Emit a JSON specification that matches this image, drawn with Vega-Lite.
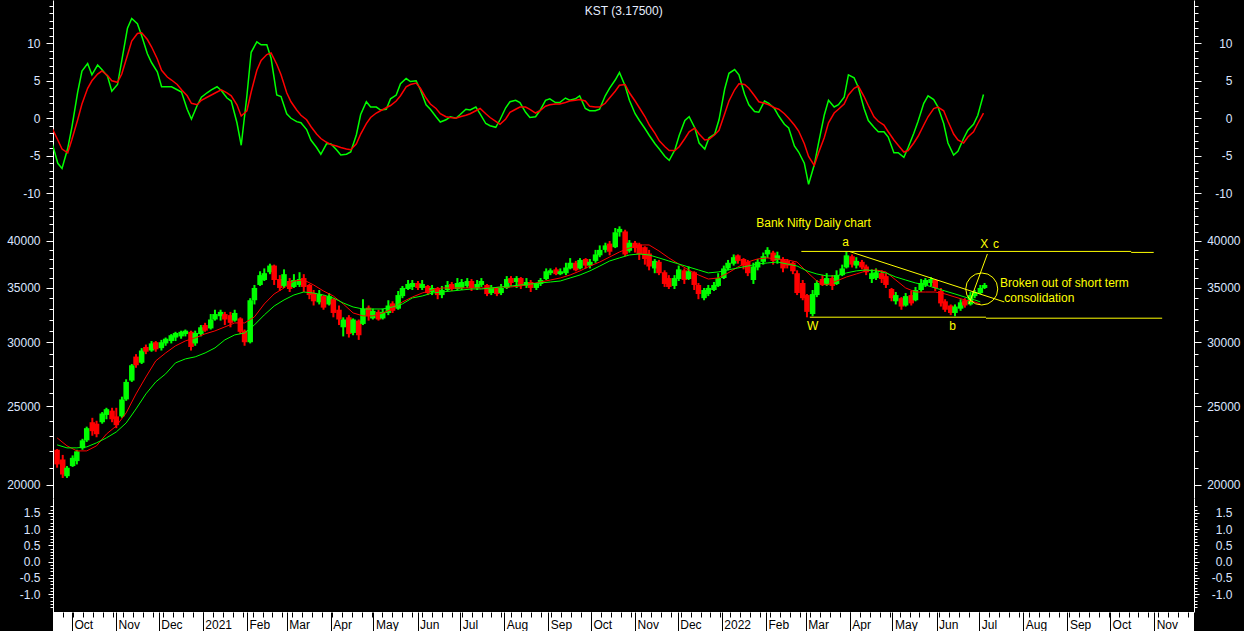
{
"$schema": "https://vega.github.io/schema/vega-lite/v6.json",
"background": "black",
"padding": {"left": 6, "right": 5, "top": 0, "bottom": 0},
"spacing": 0,
"bounds": "flush",
"config": {
  "view": {"stroke": null},
  "font": "Liberation Sans",
  "axis": {"domainColor": "#ffffff", "tickColor": "#ffffff", "labelColor": "#DCE6FF", "labelFont": "Liberation Sans", "labelFontSize": 12, "grid": false, "labelOverlap": false, "labelFlush": false, "domainWidth": 1, "tickWidth": 1}
},
"datasets": {
  "kst": [
{"d":"2020-09-17","k":-3.3,"s":-1.3},{"d":"2020-09-21","k":-6.0,"s":-2.9},{"d":"2020-09-24","k":-6.7,"s":-4.1},{"d":"2020-09-28","k":-4.0,"s":-4.6},
{"d":"2020-10-01","k":-1.1,"s":-2.8},{"d":"2020-10-05","k":3.5,"s":-0.2},{"d":"2020-10-08","k":6.3,"s":1.9},{"d":"2020-10-12","k":7.3,"s":4.0},
{"d":"2020-10-15","k":5.8,"s":5.0},{"d":"2020-10-19","k":7.1,"s":5.9},{"d":"2020-10-22","k":6.5,"s":6.3},{"d":"2020-10-26","k":5.6,"s":5.7},
{"d":"2020-10-29","k":3.6,"s":5.0},{"d":"2020-11-02","k":4.5,"s":4.8},{"d":"2020-11-05","k":7.7,"s":5.9},{"d":"2020-11-09","k":12.0,"s":8.4},
{"d":"2020-11-12","k":13.3,"s":10.3},{"d":"2020-11-16","k":12.6,"s":11.3},{"d":"2020-11-19","k":11.0,"s":11.4},{"d":"2020-11-23","k":8.6,"s":10.5},
{"d":"2020-11-26","k":7.4,"s":9.5},{"d":"2020-11-30","k":6.2,"s":7.9},{"d":"2020-12-03","k":4.2,"s":6.4},{"d":"2020-12-07","k":4.2,"s":5.5},
{"d":"2020-12-10","k":4.2,"s":5.1},{"d":"2020-12-14","k":3.8,"s":4.5},{"d":"2020-12-17","k":3.5,"s":3.8},{"d":"2020-12-21","k":1.2,"s":3.0},
{"d":"2020-12-24","k":-0.1,"s":2.0},{"d":"2020-12-28","k":1.7,"s":1.8},{"d":"2020-12-31","k":2.8,"s":2.4},{"d":"2021-01-04","k":3.4,"s":2.8},
{"d":"2021-01-07","k":3.8,"s":3.1},{"d":"2021-01-11","k":4.2,"s":3.5},{"d":"2021-01-14","k":3.7,"s":3.8},{"d":"2021-01-18","k":2.7,"s":3.4},
{"d":"2021-01-21","k":2.3,"s":3.0},{"d":"2021-01-25","k":-0.6,"s":1.8},{"d":"2021-01-28","k":-3.6,"s":0.3},{"d":"2021-02-01","k":3.0,"s":1.0},
{"d":"2021-02-04","k":8.8,"s":3.5},{"d":"2021-02-08","k":10.2,"s":6.4},{"d":"2021-02-11","k":9.8,"s":7.7},{"d":"2021-02-15","k":9.8,"s":8.5},
{"d":"2021-02-18","k":8.0,"s":8.7},{"d":"2021-02-22","k":3.1,"s":7.2},{"d":"2021-02-25","k":2.9,"s":5.8},{"d":"2021-03-01","k":0.6,"s":3.4},
{"d":"2021-03-04","k":0.0,"s":2.2},{"d":"2021-03-08","k":-0.45,"s":1.1},{"d":"2021-03-11","k":-0.6,"s":0.4},{"d":"2021-03-15","k":-1.5,"s":-0.2},
{"d":"2021-03-18","k":-2.9,"s":-1.1},{"d":"2021-03-22","k":-3.9,"s":-2.1},{"d":"2021-03-25","k":-4.8,"s":-2.7},{"d":"2021-03-29","k":-3.4,"s":-3.2},
{"d":"2021-04-01","k":-3.4,"s":-3.5},{"d":"2021-04-05","k":-4.2,"s":-3.7},{"d":"2021-04-08","k":-4.9,"s":-3.9},{"d":"2021-04-12","k":-4.8,"s":-4.1},
{"d":"2021-04-15","k":-4.5,"s":-4.2},{"d":"2021-04-19","k":-2.2,"s":-3.4},{"d":"2021-04-22","k":0.5,"s":-2.1},{"d":"2021-04-26","k":2.2,"s":-0.7},
{"d":"2021-04-29","k":1.5,"s":0.1},{"d":"2021-05-03","k":1.5,"s":0.7},{"d":"2021-05-06","k":1.1,"s":1.0},{"d":"2021-05-10","k":1.2,"s":1.4},
{"d":"2021-05-13","k":2.6,"s":1.7},{"d":"2021-05-17","k":3.1,"s":2.3},{"d":"2021-05-20","k":4.6,"s":3.0},{"d":"2021-05-24","k":5.3,"s":4.2},
{"d":"2021-05-27","k":4.9,"s":4.5},{"d":"2021-05-31","k":5.0,"s":4.7},{"d":"2021-06-03","k":3.8,"s":4.0},{"d":"2021-06-07","k":1.8,"s":2.7},
{"d":"2021-06-10","k":1.2,"s":1.9},{"d":"2021-06-14","k":0.2,"s":1.3},{"d":"2021-06-17","k":-0.5,"s":0.6},{"d":"2021-06-21","k":-0.2,"s":0.2},
{"d":"2021-06-24","k":0.2,"s":0.1},{"d":"2021-06-28","k":0.0,"s":0.0},{"d":"2021-07-01","k":0.5,"s":0.2},{"d":"2021-07-05","k":1.2,"s":0.4},
{"d":"2021-07-08","k":1.1,"s":0.6},{"d":"2021-07-12","k":1.5,"s":1.0},{"d":"2021-07-15","k":0.6,"s":1.3},{"d":"2021-07-19","k":-0.7,"s":0.6},
{"d":"2021-07-22","k":-1.0,"s":0.1},{"d":"2021-07-26","k":-1.2,"s":-0.4},{"d":"2021-07-29","k":-0.2,"s":-0.8},{"d":"2021-08-02","k":1.4,"s":-0.1},
{"d":"2021-08-05","k":2.2,"s":0.8},{"d":"2021-08-09","k":2.4,"s":1.2},{"d":"2021-08-12","k":2.1,"s":1.5},{"d":"2021-08-16","k":0.8,"s":1.5},
{"d":"2021-08-19","k":0.1,"s":1.2},{"d":"2021-08-23","k":0.2,"s":0.7},{"d":"2021-08-26","k":1.0,"s":1.0},{"d":"2021-08-30","k":2.4,"s":1.6},
{"d":"2021-09-02","k":2.6,"s":1.8},{"d":"2021-09-06","k":2.1,"s":1.9},{"d":"2021-09-09","k":2.1,"s":1.9},{"d":"2021-09-13","k":2.7,"s":2.1},
{"d":"2021-09-16","k":2.4,"s":2.3},{"d":"2021-09-20","k":2.6,"s":2.4},{"d":"2021-09-23","k":3.0,"s":2.5},{"d":"2021-09-27","k":1.3,"s":2.3},
{"d":"2021-09-30","k":1.0,"s":1.6},{"d":"2021-10-04","k":1.0,"s":1.5},{"d":"2021-10-07","k":1.2,"s":1.5},{"d":"2021-10-11","k":3.0,"s":2.0},
{"d":"2021-10-14","k":4.0,"s":2.7},{"d":"2021-10-18","k":5.1,"s":3.6},{"d":"2021-10-21","k":6.1,"s":4.4},{"d":"2021-10-25","k":4.3,"s":4.5},
{"d":"2021-10-28","k":2.4,"s":3.4},{"d":"2021-11-01","k":0.6,"s":2.3},{"d":"2021-11-04","k":-0.3,"s":1.4},{"d":"2021-11-08","k":-1.4,"s":0.2},
{"d":"2021-11-11","k":-2.3,"s":-0.9},{"d":"2021-11-15","k":-3.4,"s":-2.0},{"d":"2021-11-18","k":-4.1,"s":-3.0},{"d":"2021-11-22","k":-5.1,"s":-3.8},
{"d":"2021-11-25","k":-5.6,"s":-4.3},{"d":"2021-11-29","k":-4.2,"s":-4.3},{"d":"2021-12-02","k":-2.3,"s":-3.8},{"d":"2021-12-06","k":-0.3,"s":-2.7},
{"d":"2021-12-09","k":0.2,"s":-1.8},{"d":"2021-12-13","k":-1.3,"s":-1.3},{"d":"2021-12-16","k":-3.3,"s":-2.1},{"d":"2021-12-20","k":-4.1,"s":-2.9},
{"d":"2021-12-23","k":-2.6,"s":-2.8},{"d":"2021-12-27","k":-2.1,"s":-2.2},{"d":"2021-12-30","k":-0.2,"s":-1.6},{"d":"2022-01-03","k":3.9,"s":0.6},
{"d":"2022-01-06","k":6.0,"s":2.3},{"d":"2022-01-10","k":6.5,"s":3.8},{"d":"2022-01-13","k":5.8,"s":4.6},{"d":"2022-01-17","k":3.2,"s":4.5},
{"d":"2022-01-20","k":1.8,"s":4.0},{"d":"2022-01-24","k":0.9,"s":3.0},{"d":"2022-01-27","k":0.8,"s":2.2},{"d":"2022-01-31","k":2.3,"s":2.0},
{"d":"2022-02-03","k":2.0,"s":1.8},{"d":"2022-02-07","k":1.3,"s":1.4},{"d":"2022-02-10","k":0.3,"s":1.2},{"d":"2022-02-14","k":-0.8,"s":0.6},
{"d":"2022-02-17","k":-1.3,"s":0.0},{"d":"2022-02-21","k":-3.7,"s":-0.9},{"d":"2022-02-24","k":-4.5,"s":-1.7},{"d":"2022-02-28","k":-6.0,"s":-3.4},
{"d":"2022-03-03","k":-8.8,"s":-5.1},{"d":"2022-03-07","k":-6.2,"s":-6.3},{"d":"2022-03-10","k":-3.3,"s":-4.6},{"d":"2022-03-14","k":0.4,"s":-2.6},
{"d":"2022-03-17","k":2.4,"s":-0.6},{"d":"2022-03-21","k":1.5,"s":0.7},{"d":"2022-03-24","k":1.8,"s":1.2},{"d":"2022-03-28","k":2.8,"s":1.9},
{"d":"2022-03-31","k":5.8,"s":3.1},{"d":"2022-04-04","k":5.4,"s":4.0},{"d":"2022-04-07","k":4.1,"s":4.3},{"d":"2022-04-11","k":1.3,"s":2.9},
{"d":"2022-04-14","k":-0.3,"s":1.7},{"d":"2022-04-18","k":-1.2,"s":0.2},{"d":"2022-04-21","k":-1.8,"s":-0.4},{"d":"2022-04-25","k":-1.8,"s":-0.9},
{"d":"2022-04-28","k":-2.5,"s":-1.8},{"d":"2022-05-02","k":-4.6,"s":-2.9},{"d":"2022-05-05","k":-4.6,"s":-3.6},{"d":"2022-05-09","k":-5.2,"s":-4.5},
{"d":"2022-05-12","k":-3.9,"s":-4.3},{"d":"2022-05-16","k":-2.0,"s":-3.3},{"d":"2022-05-19","k":-0.4,"s":-2.4},{"d":"2022-05-23","k":2.0,"s":-0.9},
{"d":"2022-05-26","k":3.0,"s":0.2},{"d":"2022-05-30","k":2.5,"s":1.3},{"d":"2022-06-02","k":1.5,"s":1.5},{"d":"2022-06-06","k":-0.7,"s":1.0},
{"d":"2022-06-09","k":-3.3,"s":-0.4},{"d":"2022-06-13","k":-4.9,"s":-2.1},{"d":"2022-06-16","k":-4.4,"s":-2.9},{"d":"2022-06-20","k":-2.7,"s":-3.3},
{"d":"2022-06-23","k":-1.6,"s":-2.5},{"d":"2022-06-27","k":-0.8,"s":-1.8},{"d":"2022-06-30","k":0.4,"s":-0.7},{"d":"2022-07-04","k":3.175,"s":0.7}
  ],
  "candles": [
{"d":"2020-09-17","o":22100,"h":22150,"l":21000,"c":21200},{"d":"2020-09-21","o":21500,"h":21780,"l":20400,"c":20600},
{"d":"2020-09-24","o":20500,"h":21100,"l":20400,"c":21000},{"d":"2020-09-28","o":21100,"h":21750,"l":21050,"c":21600},
{"d":"2020-10-01","o":21400,"h":22100,"l":21200,"c":22000},{"d":"2020-10-05","o":22200,"h":22800,"l":22100,"c":22700},
{"d":"2020-10-08","o":22700,"h":23600,"l":22600,"c":23500},{"d":"2020-10-12","o":23900,"h":24200,"l":23000,"c":23300},
{"d":"2020-10-15","o":23800,"h":24000,"l":22900,"c":23100},{"d":"2020-10-19","o":23900,"h":24600,"l":23800,"c":24500},
{"d":"2020-10-22","o":24400,"h":24900,"l":24100,"c":24800},{"d":"2020-10-26","o":24700,"h":24900,"l":23900,"c":24100},
{"d":"2020-10-29","o":24300,"h":24900,"l":23500,"c":23700},{"d":"2020-11-02","o":24300,"h":25700,"l":24200,"c":25500},
{"d":"2020-11-05","o":25500,"h":27000,"l":25400,"c":26800},{"d":"2020-11-09","o":26900,"h":28200,"l":26800,"c":28100},
{"d":"2020-11-12","o":28800,"h":29000,"l":27900,"c":28100},{"d":"2020-11-16","o":28300,"h":29500,"l":28200,"c":29300},
{"d":"2020-11-19","o":29600,"h":29800,"l":29000,"c":29200},{"d":"2020-11-23","o":29300,"h":30100,"l":29200,"c":29900},
{"d":"2020-11-26","o":30000,"h":30100,"l":29200,"c":29400},{"d":"2020-11-30","o":29500,"h":30200,"l":29300,"c":30000},
{"d":"2020-12-03","o":29900,"h":30400,"l":29700,"c":30300},{"d":"2020-12-07","o":30100,"h":30700,"l":29900,"c":30600},
{"d":"2020-12-10","o":30400,"h":30900,"l":30100,"c":30800},{"d":"2020-12-14","o":30500,"h":31000,"l":30300,"c":30900},
{"d":"2020-12-17","o":30700,"h":31100,"l":30500,"c":31000},{"d":"2020-12-21","o":30900,"h":31000,"l":29300,"c":29600},
{"d":"2020-12-24","o":29900,"h":31000,"l":29700,"c":30800},{"d":"2020-12-28","o":30700,"h":31500,"l":30500,"c":31300},
{"d":"2020-12-31","o":31500,"h":31700,"l":30900,"c":31000},{"d":"2021-01-04","o":31200,"h":32500,"l":31100,"c":32000},
{"d":"2021-01-07","o":32000,"h":32900,"l":31900,"c":32500},{"d":"2021-01-11","o":32300,"h":32900,"l":31900,"c":32700},
{"d":"2021-01-14","o":32500,"h":32700,"l":31500,"c":32000},{"d":"2021-01-18","o":32400,"h":32700,"l":31300,"c":31700},
{"d":"2021-01-21","o":31900,"h":32900,"l":31800,"c":32600},{"d":"2021-01-25","o":32100,"h":32200,"l":30700,"c":30900},
{"d":"2021-01-28","o":31000,"h":31100,"l":29700,"c":30000},{"d":"2021-02-01","o":30000,"h":34000,"l":29900,"c":33800},
{"d":"2021-02-04","o":33800,"h":35300,"l":33400,"c":35000},{"d":"2021-02-08","o":35300,"h":36700,"l":35200,"c":36300},
{"d":"2021-02-11","o":35800,"h":37000,"l":35700,"c":36500},{"d":"2021-02-15","o":36600,"h":37500,"l":36400,"c":37300},
{"d":"2021-02-18","o":37300,"h":37400,"l":35300,"c":35800},{"d":"2021-02-22","o":35900,"h":36300,"l":34700,"c":35000},
{"d":"2021-02-25","o":35200,"h":36900,"l":35000,"c":36400},{"d":"2021-03-01","o":35700,"h":36000,"l":34600,"c":34900},
{"d":"2021-03-04","o":35100,"h":36400,"l":35000,"c":35800},{"d":"2021-03-08","o":35300,"h":36600,"l":35100,"c":35900},
{"d":"2021-03-11","o":36000,"h":36400,"l":34600,"c":35100},{"d":"2021-03-15","o":35300,"h":35400,"l":33900,"c":34300},
{"d":"2021-03-18","o":34500,"h":34800,"l":33300,"c":33700},{"d":"2021-03-22","o":33600,"h":34800,"l":33400,"c":34400},
{"d":"2021-03-25","o":34200,"h":34300,"l":32900,"c":33100},{"d":"2021-03-29","o":33400,"h":34500,"l":33300,"c":34200},
{"d":"2021-04-01","o":33900,"h":34000,"l":32200,"c":32600},{"d":"2021-04-05","o":32900,"h":33300,"l":31500,"c":32000},
{"d":"2021-04-08","o":31300,"h":32200,"l":30500,"c":32000},{"d":"2021-04-12","o":32200,"h":32400,"l":30400,"c":30700},
{"d":"2021-04-15","o":30800,"h":32100,"l":30600,"c":32000},{"d":"2021-04-19","o":31900,"h":32000,"l":30200,"c":30600},
{"d":"2021-04-22","o":31600,"h":33900,"l":31500,"c":33000},{"d":"2021-04-26","o":33100,"h":33300,"l":31900,"c":32300},
{"d":"2021-04-29","o":32100,"h":33000,"l":32000,"c":32800},{"d":"2021-05-03","o":32700,"h":32900,"l":31900,"c":32000},
{"d":"2021-05-06","o":32100,"h":33000,"l":32000,"c":32700},{"d":"2021-05-10","o":32600,"h":33800,"l":32400,"c":33300},
{"d":"2021-05-13","o":33500,"h":33700,"l":32600,"c":32800},{"d":"2021-05-17","o":33000,"h":34700,"l":32900,"c":34300},
{"d":"2021-05-20","o":34200,"h":35200,"l":34000,"c":35000},{"d":"2021-05-24","o":34900,"h":35800,"l":34800,"c":35400},
{"d":"2021-05-27","o":35100,"h":35800,"l":34800,"c":35500},{"d":"2021-05-31","o":35500,"h":35700,"l":34800,"c":35000},
{"d":"2021-06-03","o":35000,"h":35800,"l":34800,"c":35400},{"d":"2021-06-07","o":35200,"h":35300,"l":34300,"c":34500},
{"d":"2021-06-10","o":34600,"h":35300,"l":34300,"c":35000},{"d":"2021-06-14","o":35000,"h":35100,"l":33900,"c":34300},
{"d":"2021-06-17","o":34300,"h":35200,"l":34000,"c":34800},{"d":"2021-06-21","o":34800,"h":35700,"l":34700,"c":35300},
{"d":"2021-06-24","o":35400,"h":35600,"l":34700,"c":34900},{"d":"2021-06-28","o":34900,"h":36000,"l":34800,"c":35500},
{"d":"2021-07-01","o":35000,"h":35900,"l":34800,"c":35600},{"d":"2021-07-05","o":35200,"h":36000,"l":35000,"c":35700},
{"d":"2021-07-08","o":35700,"h":35900,"l":34700,"c":35000},{"d":"2021-07-12","o":35000,"h":35800,"l":34800,"c":35400},
{"d":"2021-07-15","o":35300,"h":36000,"l":35100,"c":35700},{"d":"2021-07-19","o":35300,"h":35400,"l":34200,"c":34400},
{"d":"2021-07-22","o":34500,"h":35300,"l":34300,"c":35000},{"d":"2021-07-26","o":35000,"h":35100,"l":34200,"c":34400},
{"d":"2021-07-29","o":34500,"h":35400,"l":34300,"c":35000},{"d":"2021-08-02","o":35000,"h":36200,"l":34900,"c":35900},
{"d":"2021-08-05","o":36000,"h":36200,"l":35200,"c":35500},{"d":"2021-08-09","o":35600,"h":36200,"l":35000,"c":36000},
{"d":"2021-08-12","o":36000,"h":36100,"l":34900,"c":35200},{"d":"2021-08-16","o":35200,"h":36000,"l":35000,"c":35600},
{"d":"2021-08-19","o":35600,"h":35800,"l":34600,"c":35000},{"d":"2021-08-23","o":35000,"h":35500,"l":34800,"c":35400},
{"d":"2021-08-26","o":35400,"h":36000,"l":35200,"c":35800},{"d":"2021-08-30","o":35900,"h":37000,"l":35800,"c":36700},
{"d":"2021-09-02","o":36500,"h":37000,"l":36300,"c":36800},{"d":"2021-09-06","o":36900,"h":37100,"l":36300,"c":36400},
{"d":"2021-09-09","o":36400,"h":37000,"l":36300,"c":36700},{"d":"2021-09-13","o":36500,"h":37600,"l":36300,"c":37100},
{"d":"2021-09-16","o":37000,"h":38100,"l":36900,"c":37600},{"d":"2021-09-20","o":37600,"h":37800,"l":36700,"c":36800},
{"d":"2021-09-23","o":37000,"h":38100,"l":36900,"c":37900},{"d":"2021-09-27","o":38000,"h":38100,"l":37000,"c":37300},
{"d":"2021-09-30","o":37300,"h":38000,"l":37000,"c":37700},{"d":"2021-10-04","o":37800,"h":39000,"l":37600,"c":38500},
{"d":"2021-10-07","o":38400,"h":39500,"l":38200,"c":39000},{"d":"2021-10-11","o":39000,"h":39800,"l":38700,"c":39500},
{"d":"2021-10-14","o":39700,"h":40000,"l":38400,"c":38800},{"d":"2021-10-18","o":39300,"h":41500,"l":39200,"c":41000},
{"d":"2021-10-21","o":41000,"h":41700,"l":40500,"c":41400},{"d":"2021-10-25","o":41100,"h":41300,"l":38300,"c":38500},
{"d":"2021-10-28","o":38900,"h":40100,"l":38700,"c":39800},{"d":"2021-11-01","o":39800,"h":40000,"l":38700,"c":39200},
{"d":"2021-11-04","o":39600,"h":39800,"l":37900,"c":38500},{"d":"2021-11-08","o":39300,"h":39400,"l":37400,"c":38000},
{"d":"2021-11-11","o":38600,"h":39000,"l":36800,"c":37200},{"d":"2021-11-15","o":37000,"h":38000,"l":36500,"c":37800},
{"d":"2021-11-18","o":37700,"h":37900,"l":36300,"c":36500},{"d":"2021-11-22","o":36600,"h":36800,"l":35100,"c":35400},
{"d":"2021-11-25","o":36000,"h":36300,"l":34900,"c":35100},{"d":"2021-11-29","o":35200,"h":36300,"l":34900,"c":36000},
{"d":"2021-12-02","o":35900,"h":37300,"l":35700,"c":36900},{"d":"2021-12-06","o":36800,"h":37000,"l":35400,"c":35800},
{"d":"2021-12-09","o":35900,"h":37200,"l":35800,"c":36700},{"d":"2021-12-13","o":36600,"h":36700,"l":34800,"c":35300},
{"d":"2021-12-16","o":35300,"h":35500,"l":33900,"c":34400},{"d":"2021-12-20","o":34000,"h":35000,"l":33800,"c":34800},
{"d":"2021-12-23","o":34400,"h":35300,"l":34200,"c":35000},{"d":"2021-12-27","o":34800,"h":35600,"l":34700,"c":35300},
{"d":"2021-12-30","o":35200,"h":36500,"l":35100,"c":36000},{"d":"2022-01-03","o":36000,"h":37300,"l":35900,"c":37000},
{"d":"2022-01-06","o":37000,"h":37900,"l":36800,"c":37600},{"d":"2022-01-10","o":37500,"h":38500,"l":37300,"c":38200},
{"d":"2022-01-13","o":38400,"h":38500,"l":37500,"c":37800},{"d":"2022-01-17","o":38000,"h":38100,"l":36900,"c":37300},
{"d":"2022-01-20","o":37700,"h":37900,"l":36200,"c":36500},{"d":"2022-01-24","o":35800,"h":37600,"l":35400,"c":37200},
{"d":"2022-01-27","o":37100,"h":38000,"l":36800,"c":37700},{"d":"2022-01-31","o":37700,"h":38700,"l":37400,"c":38300},
{"d":"2022-02-03","o":38500,"h":39300,"l":38100,"c":39000},{"d":"2022-02-07","o":38700,"h":38900,"l":37400,"c":37800},
{"d":"2022-02-10","o":37900,"h":38800,"l":37500,"c":38400},{"d":"2022-02-14","o":38000,"h":38200,"l":36600,"c":37000},
{"d":"2022-02-17","o":37800,"h":38000,"l":37000,"c":37300},{"d":"2022-02-21","o":37600,"h":37700,"l":36400,"c":36700},
{"d":"2022-02-24","o":36500,"h":36800,"l":34300,"c":34500},{"d":"2022-02-28","o":35500,"h":35800,"l":33800,"c":34000},
{"d":"2022-03-03","o":34300,"h":34400,"l":32200,"c":32700},{"d":"2022-03-07","o":32500,"h":34800,"l":32300,"c":34400},
{"d":"2022-03-10","o":34300,"h":35800,"l":34100,"c":35500},{"d":"2022-03-14","o":35900,"h":36300,"l":35200,"c":35300},
{"d":"2022-03-17","o":35300,"h":36500,"l":35200,"c":36000},{"d":"2022-03-21","o":36000,"h":36300,"l":34800,"c":35200},
{"d":"2022-03-24","o":35400,"h":36800,"l":35300,"c":36300},{"d":"2022-03-28","o":36300,"h":37400,"l":36200,"c":37000},
{"d":"2022-03-31","o":37100,"h":38800,"l":37000,"c":38400},{"d":"2022-04-04","o":38300,"h":38500,"l":37100,"c":37400},
{"d":"2022-04-07","o":37300,"h":38200,"l":37000,"c":37800},{"d":"2022-04-11","o":37700,"h":37900,"l":36900,"c":37100},
{"d":"2022-04-14","o":37200,"h":37400,"l":36300,"c":36600},{"d":"2022-04-18","o":35900,"h":36900,"l":35500,"c":36500},
{"d":"2022-04-21","o":36000,"h":37000,"l":35800,"c":36600},{"d":"2022-04-25","o":36500,"h":36800,"l":35500,"c":35900},
{"d":"2022-04-28","o":36200,"h":36500,"l":35000,"c":35300},{"d":"2022-05-02","o":34900,"h":35000,"l":33700,"c":34000},
{"d":"2022-05-05","o":33700,"h":34600,"l":33400,"c":34300},{"d":"2022-05-09","o":34000,"h":34100,"l":32900,"c":33200},
{"d":"2022-05-12","o":33300,"h":34500,"l":33200,"c":34200},{"d":"2022-05-16","o":34300,"h":34700,"l":33300,"c":33500},
{"d":"2022-05-19","o":33800,"h":35100,"l":33700,"c":34800},{"d":"2022-05-23","o":34800,"h":35900,"l":34600,"c":35500},
{"d":"2022-05-26","o":35300,"h":36000,"l":35100,"c":35800},{"d":"2022-05-30","o":35500,"h":36100,"l":35200,"c":35900},
{"d":"2022-06-02","o":35800,"h":35900,"l":34700,"c":35000},{"d":"2022-06-06","o":34700,"h":35000,"l":33200,"c":33500},
{"d":"2022-06-09","o":33700,"h":33900,"l":32700,"c":32900},{"d":"2022-06-13","o":33300,"h":33400,"l":32400,"c":32600},
{"d":"2022-06-16","o":32600,"h":33400,"l":32300,"c":33200},{"d":"2022-06-20","o":33000,"h":33900,"l":32800,"c":33600},
{"d":"2022-06-23","o":33800,"h":34000,"l":33100,"c":33300},{"d":"2022-06-27","o":33400,"h":34600,"l":33300,"c":34300},
{"d":"2022-06-30","o":34200,"h":34800,"l":34000,"c":34600},{"d":"2022-07-04","o":34500,"h":35300,"l":34400,"c":35000},
{"d":"2022-07-07","o":35000,"h":35500,"l":34900,"c":35300}
  ],
  "ma": [
{"d":"2020-09-17","r":22860,"g":22410},{"d":"2020-09-24","r":22350,"g":22220},{"d":"2020-10-01","r":22030,"g":22220},{"d":"2020-10-08","r":22030,"g":22280},
{"d":"2020-10-15","r":22350,"g":22540},{"d":"2020-10-22","r":23110,"g":22860},{"d":"2020-10-29","r":23650,"g":23250},{"d":"2020-11-05","r":24540,"g":23850},
{"d":"2020-11-12","r":25900,"g":24820},{"d":"2020-11-19","r":27180,"g":25900},{"d":"2020-11-26","r":28450,"g":26800},{"d":"2020-12-03","r":29100,"g":27420},
{"d":"2020-12-10","r":29690,"g":28290},{"d":"2020-12-17","r":30110,"g":28610},{"d":"2020-12-24","r":30370,"g":28780},{"d":"2020-12-31","r":30720,"g":29100},
{"d":"2021-01-07","r":30980,"g":29520},{"d":"2021-01-14","r":31330,"g":30200},{"d":"2021-01-21","r":31690,"g":30630},{"d":"2021-01-28","r":31690,"g":30800},
{"d":"2021-02-04","r":32240,"g":31510},{"d":"2021-02-11","r":33450,"g":32420},{"d":"2021-02-18","r":34410,"g":33250},{"d":"2021-02-25","r":35000,"g":33830},
{"d":"2021-03-04","r":35700,"g":34310},{"d":"2021-03-11","r":35800,"g":34600},{"d":"2021-03-18","r":35300,"g":34500},{"d":"2021-03-25","r":34700,"g":34310},
{"d":"2021-04-01","r":34210,"g":34020},{"d":"2021-04-08","r":33450,"g":33540},{"d":"2021-04-15","r":32600,"g":33160},{"d":"2021-04-22","r":32330,"g":32970},
{"d":"2021-04-29","r":32330,"g":32970},{"d":"2021-05-06","r":32600,"g":32970},{"d":"2021-05-13","r":32970,"g":33160},{"d":"2021-05-20","r":33640,"g":33450},
{"d":"2021-05-27","r":34110,"g":34020},{"d":"2021-06-03","r":34500,"g":34210},{"d":"2021-06-10","r":34800,"g":34500},{"d":"2021-06-17","r":35000,"g":34600},
{"d":"2021-06-24","r":35000,"g":34700},{"d":"2021-07-01","r":35000,"g":34800},{"d":"2021-07-08","r":35000,"g":34900},{"d":"2021-07-15","r":35000,"g":34900},
{"d":"2021-07-22","r":35000,"g":35000},{"d":"2021-07-29","r":35100,"g":35100},{"d":"2021-08-05","r":35100,"g":35200},{"d":"2021-08-12","r":35200,"g":35300},
{"d":"2021-08-19","r":35400,"g":35400},{"d":"2021-08-26","r":35600,"g":35500},{"d":"2021-09-02","r":35800,"g":35600},{"d":"2021-09-09","r":36010,"g":35700},
{"d":"2021-09-16","r":36320,"g":36010},{"d":"2021-09-23","r":36740,"g":36320},{"d":"2021-09-30","r":37250,"g":36740},{"d":"2021-10-07","r":37680,"g":37250},
{"d":"2021-10-14","r":38220,"g":37790},{"d":"2021-10-21","r":38770,"g":38120},{"d":"2021-10-28","r":39210,"g":38440},{"d":"2021-11-04","r":39550,"g":38550},
{"d":"2021-11-11","r":39550,"g":38440},{"d":"2021-11-18","r":38880,"g":38120},{"d":"2021-11-25","r":38120,"g":37790},{"d":"2021-12-02","r":37470,"g":37470},
{"d":"2021-12-09","r":36840,"g":37150},{"d":"2021-12-16","r":36320,"g":36840},{"d":"2021-12-23","r":35900,"g":36530},{"d":"2021-12-30","r":36010,"g":36630},
{"d":"2022-01-06","r":36520,"g":36840},{"d":"2022-01-13","r":37150,"g":37050},{"d":"2022-01-20","r":37680,"g":37250},{"d":"2022-01-27","r":38010,"g":37470},
{"d":"2022-02-03","r":38120,"g":37580},{"d":"2022-02-10","r":38010,"g":37680},{"d":"2022-02-17","r":37900,"g":37470},{"d":"2022-02-24","r":37680,"g":37250},
{"d":"2022-03-03","r":36630,"g":36740},{"d":"2022-03-10","r":35700,"g":36420},{"d":"2022-03-17","r":35300,"g":36220},{"d":"2022-03-24","r":35700,"g":36220},
{"d":"2022-03-31","r":36110,"g":36530},{"d":"2022-04-07","r":36420,"g":36740},{"d":"2022-04-14","r":36740,"g":36840},{"d":"2022-04-21","r":36840,"g":36740},
{"d":"2022-04-28","r":36630,"g":36530},{"d":"2022-05-05","r":35800,"g":36110},{"d":"2022-05-12","r":35000,"g":35800},{"d":"2022-05-19","r":34600,"g":35500},
{"d":"2022-05-26","r":34600,"g":35300},{"d":"2022-06-02","r":34600,"g":35000},{"d":"2022-06-09","r":34410,"g":34700},{"d":"2022-06-16","r":34110,"g":34410},
{"d":"2022-06-23","r":33830,"g":34110},{"d":"2022-06-30","r":33640,"g":33830},{"d":"2022-07-04","r":33450,"g":33640}
  ],
  "alines": [
{"seg":"top1","d":"2022-02-27","p":38830},{"seg":"top1","d":"2022-10-19","p":38830},
{"seg":"top2","d":"2022-10-19","p":38720},{"seg":"top2","d":"2022-11-04","p":38720},
{"seg":"bot1","d":"2022-03-05","p":32210},{"seg":"bot1","d":"2022-07-08","p":32210},
{"seg":"bot2","d":"2022-07-08","p":32120},{"seg":"bot2","d":"2022-11-10","p":32120},
{"seg":"trend","d":"2022-04-02","p":38830},{"seg":"trend","d":"2022-07-21","p":33640},
{"seg":"xl","d":"2022-06-26","p":33450},{"seg":"xl","d":"2022-07-09","p":38550}
  ],
  "notes": [
{"d":"2022-01-26","p":42140,"t":"Bank Nifty Daily chart"},
{"d":"2022-03-28","p":39890,"t":"a"},
{"d":"2022-03-03","p":31420,"t":"W"},
{"d":"2022-06-12","p":31420,"t":"b"},
{"d":"2022-07-04","p":39660,"t":"X"},
{"d":"2022-07-13","p":39660,"t":"c"},
{"d":"2022-07-18","p":35530,"t":"Broken out of short term"},
{"d":"2022-07-21","p":34050,"t":"consolidation"}
  ],
  "blank": [{"d": "2021-06-01", "v": 0}],
  "strip": [{"a": "2020-09-17T15:22:00Z", "b": "2022-11-29T00:50:00Z", "y0": 0, "y1": 1}]
},
"vconcat": [
{
  "width": 1141, "height": 210,
  "layer": [
    {"data": {"name": "kst"}, "mark": {"type": "line", "color": "#00ff00", "strokeWidth": 1.5, "clip": true},
     "encoding": {
       "x": {"field": "d", "type": "temporal", "scale": {"type": "utc", "domain": [{"year":2020,"month":9,"date":17,"hours":15,"minutes":22,"utc":true},{"year":2022,"month":11,"date":29,"hours":0,"minutes":50,"utc":true}], "nice": false}, "axis": null},
       "y": {"field": "k", "type": "quantitative", "scale": {"domain": [-12.23, 15.77], "nice": false, "zero": false},
             "axis": {"orient": "left", "values": [-10,-5,0,5,10], "tickSize": 7, "labelPadding": 6, "labelExpr": "'' + datum.value", "title": null}}
     }},
    {"data": {"name": "kst"}, "mark": {"type": "line", "color": "#ff0000", "strokeWidth": 1.5, "clip": true},
     "encoding": {
       "x": {"field": "d", "type": "temporal", "scale": {"type": "utc", "domain": [{"year":2020,"month":9,"date":17,"hours":15,"minutes":22,"utc":true},{"year":2022,"month":11,"date":29,"hours":0,"minutes":50,"utc":true}], "nice": false}, "axis": null},
       "y": {"field": "s", "type": "quantitative", "scale": {"domain": [-12.23, 15.77], "nice": false, "zero": false},
             "axis": {"orient": "right", "values": [-10,-5,0,5,10], "tickSize": 7, "labelPadding": 31, "labelAlign": "right", "labelExpr": "'' + datum.value", "title": null}}
     }},
    {"data": {"name": "kst"}, "mark": {"type": "point", "opacity": 0},
     "encoding": {
       "x": {"field": "d", "type": "temporal", "scale": {"type": "utc", "domain": [{"year":2020,"month":9,"date":17,"hours":15,"minutes":22,"utc":true},{"year":2022,"month":11,"date":29,"hours":0,"minutes":50,"utc":true}], "nice": false}, "axis": null},
       "y": {"field": "k", "type": "quantitative", "scale": {"domain": [-12.23, 15.77], "nice": false, "zero": false},
             "axis": {"orient": "left", "values": [-12,-11,-10,-9,-8,-7,-6,-5,-4,-3,-2,-1,0,1,2,3,4,5,6,7,8,9,10,11,12,13,14,15], "tickSize": 4, "labels": false, "domain": false, "title": null}}
     }},
    {"data": {"name": "kst"}, "mark": {"type": "point", "opacity": 0},
     "encoding": {
       "x": {"field": "d", "type": "temporal", "scale": {"type": "utc", "domain": [{"year":2020,"month":9,"date":17,"hours":15,"minutes":22,"utc":true},{"year":2022,"month":11,"date":29,"hours":0,"minutes":50,"utc":true}], "nice": false}, "axis": null},
       "y": {"field": "k", "type": "quantitative", "scale": {"domain": [-12.23, 15.77], "nice": false, "zero": false},
             "axis": {"orient": "right", "values": [-12,-11,-10,-9,-8,-7,-6,-5,-4,-3,-2,-1,0,1,2,3,4,5,6,7,8,9,10,11,12,13,14,15], "tickSize": 4, "labels": false, "domain": false, "title": null}}
     }},
    {"data": {"values": [{"d": "2021-10-24", "v": 14.3, "t": "KST (3.17500)"}]},
     "mark": {"type": "text", "color": "#E6EEFF", "fontSize": 12, "font": "Liberation Sans", "align": "center", "baseline": "middle"},
     "encoding": {
       "x": {"field": "d", "type": "temporal", "scale": {"type": "utc", "domain": [{"year":2020,"month":9,"date":17,"hours":15,"minutes":22,"utc":true},{"year":2022,"month":11,"date":29,"hours":0,"minutes":50,"utc":true}], "nice": false}, "axis": null},
       "y": {"field": "v", "type": "quantitative", "scale": {"domain": [-12.23, 15.77], "nice": false, "zero": false}, "axis": null},
       "text": {"field": "t"}
     }}
  ],
  "resolve": {"axis": {"y": "independent"}}
},
{
  "width": 1141, "height": 288,
  "layer": [
    {"data": {"name": "candles"}, "mark": {"type": "rule", "strokeWidth": 2},
     "encoding": {
       "x": {"field": "d", "type": "temporal", "scale": {"type": "utc", "domain": [{"year":2020,"month":9,"date":17,"hours":15,"minutes":22,"utc":true},{"year":2022,"month":11,"date":29,"hours":0,"minutes":50,"utc":true}], "nice": false}, "axis": null},
       "y": {"field": "l", "type": "quantitative", "scale": {"type": "log", "domain": [19270, 43680], "nice": false},
             "axis": {"orient": "left", "values": [20000,25000,30000,35000,40000], "tickSize": 7, "labelPadding": 6, "labelExpr": "'' + datum.value", "title": null}},
       "y2": {"field": "h"},
       "color": {"condition": {"test": "datum.c >= datum.o", "value": "#00ff00"}, "value": "#ff0000"}
     }},
    {"data": {"name": "candles"}, "mark": {"type": "bar", "width": 5.5},
     "encoding": {
       "x": {"field": "d", "type": "temporal", "scale": {"type": "utc", "domain": [{"year":2020,"month":9,"date":17,"hours":15,"minutes":22,"utc":true},{"year":2022,"month":11,"date":29,"hours":0,"minutes":50,"utc":true}], "nice": false}, "axis": null},
       "y": {"field": "o", "type": "quantitative", "scale": {"type": "log", "domain": [19270, 43680], "nice": false},
             "axis": {"orient": "right", "values": [20000,25000,30000,35000,40000], "tickSize": 7, "labelPadding": 39, "labelAlign": "right", "labelExpr": "'' + datum.value", "title": null}},
       "y2": {"field": "c"},
       "color": {"condition": {"test": "datum.c >= datum.o", "value": "#00ff00"}, "value": "#ff0000"}
     }},
    {"data": {"name": "ma"}, "mark": {"type": "line", "color": "#ff0000", "strokeWidth": 1},
     "encoding": {
       "x": {"field": "d", "type": "temporal", "scale": {"type": "utc", "domain": [{"year":2020,"month":9,"date":17,"hours":15,"minutes":22,"utc":true},{"year":2022,"month":11,"date":29,"hours":0,"minutes":50,"utc":true}], "nice": false}, "axis": null},
       "y": {"field": "r", "type": "quantitative", "scale": {"type": "log", "domain": [19270, 43680], "nice": false},
             "axis": {"orient": "left", "values": [20000,21000,22000,23000,24000,25000,26000,27000,28000,29000,30000,31000,32000,33000,34000,35000,36000,37000,38000,39000,40000,41000,42000,43000], "tickSize": 4, "labels": false, "domain": false, "title": null}}
     }},
    {"data": {"name": "ma"}, "mark": {"type": "line", "color": "#00ff00", "strokeWidth": 1},
     "encoding": {
       "x": {"field": "d", "type": "temporal", "scale": {"type": "utc", "domain": [{"year":2020,"month":9,"date":17,"hours":15,"minutes":22,"utc":true},{"year":2022,"month":11,"date":29,"hours":0,"minutes":50,"utc":true}], "nice": false}, "axis": null},
       "y": {"field": "g", "type": "quantitative", "scale": {"type": "log", "domain": [19270, 43680], "nice": false},
             "axis": {"orient": "right", "values": [20000,21000,22000,23000,24000,25000,26000,27000,28000,29000,30000,31000,32000,33000,34000,35000,36000,37000,38000,39000,40000,41000,42000,43000], "tickSize": 4, "labels": false, "domain": false, "title": null}}
     }},
    {"data": {"name": "alines"}, "mark": {"type": "line", "color": "#ffff00", "strokeWidth": 1},
     "encoding": {
       "x": {"field": "d", "type": "temporal", "scale": {"type": "utc", "domain": [{"year":2020,"month":9,"date":17,"hours":15,"minutes":22,"utc":true},{"year":2022,"month":11,"date":29,"hours":0,"minutes":50,"utc":true}], "nice": false}, "axis": null},
       "y": {"field": "p", "type": "quantitative", "scale": {"type": "log", "domain": [19270, 43680], "nice": false}, "axis": null},
       "detail": {"field": "seg"}
     }},
    {"data": {"values": [{"d": "2022-07-05", "p": 34900}]}, "mark": {"type": "point", "shape": "circle", "size": 1024, "filled": false, "color": "#ffff00", "strokeWidth": 1, "opacity": 1},
     "encoding": {
       "x": {"field": "d", "type": "temporal", "scale": {"type": "utc", "domain": [{"year":2020,"month":9,"date":17,"hours":15,"minutes":22,"utc":true},{"year":2022,"month":11,"date":29,"hours":0,"minutes":50,"utc":true}], "nice": false}, "axis": null},
       "y": {"field": "p", "type": "quantitative", "scale": {"type": "log", "domain": [19270, 43680], "nice": false}, "axis": null}
     }},
    {"data": {"name": "notes"}, "mark": {"type": "text", "color": "#ffff00", "fontSize": 12, "font": "Liberation Sans", "align": "left", "baseline": "middle"},
     "encoding": {
       "x": {"field": "d", "type": "temporal", "scale": {"type": "utc", "domain": [{"year":2020,"month":9,"date":17,"hours":15,"minutes":22,"utc":true},{"year":2022,"month":11,"date":29,"hours":0,"minutes":50,"utc":true}], "nice": false}, "axis": null},
       "y": {"field": "p", "type": "quantitative", "scale": {"type": "log", "domain": [19270, 43680], "nice": false}, "axis": null},
       "text": {"field": "t"}
     }}
  ],
  "resolve": {"axis": {"y": "independent"}}
},
{
  "width": 1141, "height": 114,
  "data": {"name": "blank"},
  "layer": [
    {"mark": {"type": "point", "opacity": 0},
     "encoding": {
       "x": {"field": "d", "type": "temporal", "scale": {"type": "utc", "domain": [{"year":2020,"month":9,"date":17,"hours":15,"minutes":22,"utc":true},{"year":2022,"month":11,"date":29,"hours":0,"minutes":50,"utc":true}], "nice": false}, "axis": null},
       "y": {"field": "v", "type": "quantitative", "scale": {"domain": [-1.55, 1.96], "nice": false, "zero": false},
       "axis": {"orient": "left", "values": [-1,-0.5,0,0.5,1,1.5], "tickSize": 5, "labelPadding": 8, "labelExpr": "replace(format(datum.value, '.1f'), '\u2212', '-')", "title": null}}}},
    {"mark": {"type": "point", "opacity": 0},
     "encoding": {
       "x": {"field": "d", "type": "temporal", "scale": {"type": "utc", "domain": [{"year":2020,"month":9,"date":17,"hours":15,"minutes":22,"utc":true},{"year":2022,"month":11,"date":29,"hours":0,"minutes":50,"utc":true}], "nice": false}, "axis": null},
       "y": {"field": "v", "type": "quantitative", "scale": {"domain": [-1.55, 1.96], "nice": false, "zero": false},
       "axis": {"orient": "right", "values": [-1,-0.5,0,0.5,1,1.5], "tickSize": 5, "labelPadding": 33, "labelAlign": "right", "labelExpr": "replace(format(datum.value, '.1f'), '\u2212', '-')", "title": null}}}},
    {"mark": {"type": "point", "opacity": 0},
     "encoding": {
       "x": {"field": "d", "type": "temporal", "scale": {"type": "utc", "domain": [{"year":2020,"month":9,"date":17,"hours":15,"minutes":22,"utc":true},{"year":2022,"month":11,"date":29,"hours":0,"minutes":50,"utc":true}], "nice": false}, "axis": null},
       "y": {"field": "v", "type": "quantitative", "scale": {"domain": [-1.55, 1.96], "nice": false, "zero": false},
       "axis": {"orient": "left", "values": [-1.4,-1.3,-1.2,-1.1,-1,-0.9,-0.8,-0.7,-0.6,-0.5,-0.4,-0.3,-0.2,-0.1,0,0.1,0.2,0.3,0.4,0.5,0.6,0.7,0.8,0.9,1,1.1,1.2,1.3,1.4,1.5,1.6,1.7], "tickSize": 3, "labels": false, "domain": false, "title": null}}}},
    {"mark": {"type": "point", "opacity": 0},
     "encoding": {
       "x": {"field": "d", "type": "temporal", "scale": {"type": "utc", "domain": [{"year":2020,"month":9,"date":17,"hours":15,"minutes":22,"utc":true},{"year":2022,"month":11,"date":29,"hours":0,"minutes":50,"utc":true}], "nice": false}, "axis": null},
       "y": {"field": "v", "type": "quantitative", "scale": {"domain": [-1.55, 1.96], "nice": false, "zero": false},
       "axis": {"orient": "right", "values": [-1.4,-1.3,-1.2,-1.1,-1,-0.9,-0.8,-0.7,-0.6,-0.5,-0.4,-0.3,-0.2,-0.1,0,0.1,0.2,0.3,0.4,0.5,0.6,0.7,0.8,0.9,1,1.1,1.2,1.3,1.4,1.5,1.6,1.7], "tickSize": 3, "labels": false, "domain": false, "title": null}}}}
  ],
  "resolve": {"axis": {"y": "independent"}}
},
{
  "width": 1141, "height": 19,
  "data": {"name": "strip"},
  "layer": [
    {"mark": {"type": "rect", "color": "#ffffff"},
     "encoding": {
       "x": {"field": "a", "type": "temporal", "scale": {"type": "utc", "domain": [{"year":2020,"month":9,"date":17,"hours":15,"minutes":22,"utc":true},{"year":2022,"month":11,"date":29,"hours":0,"minutes":50,"utc":true}], "nice": false},
             "axis": {"orient": "bottom", "offset": -19, "zindex": 2, "domain": false, "tickCount": {"interval": "month", "step": 1}, "tickSize": 19, "tickColor": "#000000", "labelColor": "#000000", "labelAlign": "left", "labelBaseline": "top", "labelPadding": -12, "labelOffset": 2, "labelExpr": "utcmonth(datum.value) == 0 ? utcFormat(datum.value, '%Y') : utcFormat(datum.value, '%b')", "title": null}},
       "x2": {"field": "b"},
       "y": {"field": "y0", "type": "quantitative", "scale": {"domain": [0, 1], "nice": false}, "axis": null},
       "y2": {"field": "y1"}
     }},
    {"mark": {"type": "rect", "color": "#ffffff", "opacity": 0},
     "encoding": {
       "x": {"field": "a", "type": "temporal", "scale": {"type": "utc", "domain": [{"year":2020,"month":9,"date":17,"hours":15,"minutes":22,"utc":true},{"year":2022,"month":11,"date":29,"hours":0,"minutes":50,"utc":true}], "nice": false},
             "axis": {"orient": "bottom", "offset": -19, "zindex": 2, "domain": false, "tickCount": {"interval": "week", "step": 1}, "tickOffset": 7.1, "tickSize": 5, "tickColor": "#000000", "labels": false, "title": null}},
       "x2": {"field": "b"},
       "y": {"field": "y0", "type": "quantitative", "scale": {"domain": [0, 1], "nice": false}, "axis": null},
       "y2": {"field": "y1"}
     }}
  ],
  "resolve": {"axis": {"x": "independent"}}
}
]
}
